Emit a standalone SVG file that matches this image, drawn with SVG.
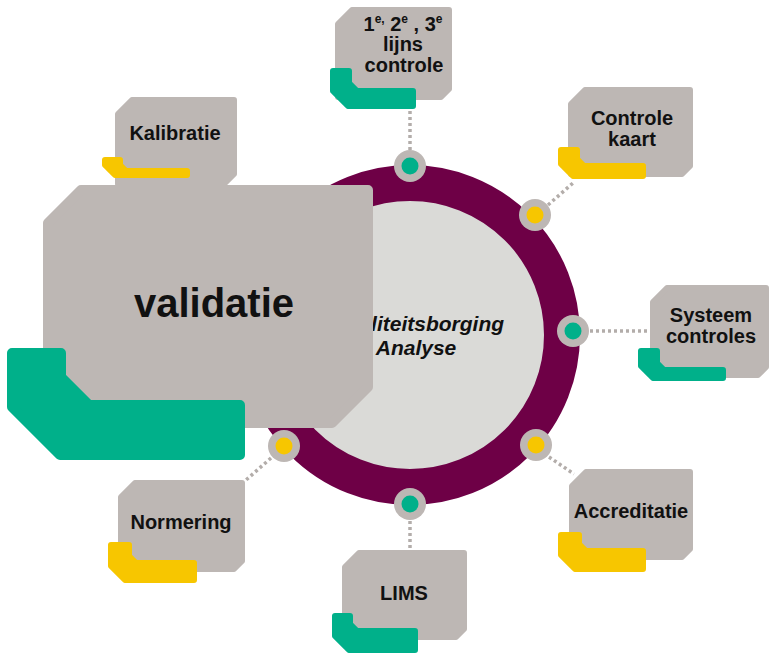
<svg xmlns="http://www.w3.org/2000/svg" width="771" height="654" viewBox="0 0 771 654">
<style>
.box{fill:#bdb7b4;stroke:#bdb7b4;stroke-width:6;stroke-linejoin:round}
.bigbox{fill:#bdb7b4;stroke:#bdb7b4;stroke-width:10;stroke-linejoin:round}
.g{fill:#00b08a;stroke:#00b08a;stroke-width:6;stroke-linejoin:round}
.gbig{fill:#00b08a;stroke:#00b08a;stroke-width:10;stroke-linejoin:round}
.y{fill:#f7c600;stroke:#f7c600;stroke-width:6;stroke-linejoin:round}
.lbl{font-family:"Liberation Sans",Arial,sans-serif;font-weight:bold;font-size:20px;fill:#111;text-anchor:middle}
.dot{fill:#bdb7b4}
.conn{stroke:#b3adaa;stroke-width:3.5;stroke-dasharray:3 3;fill:none}
</style>
<rect width="771" height="654" fill="#ffffff"/>

<g id="kalibratie">
<path class="box" d="M118,114 L132,100 L234,100 L234,174 L224,184 L118,184 Z"/>
<path class="y" d="M105,160 L120,160 L120,165 L126,171 L187,171 L187,175 L115,175 L105,165 Z"/>
<text class="lbl" x="175" y="140">Kalibratie</text>
</g>

<g id="center">
<circle cx="410" cy="335" r="152" fill="#dadad7" stroke="#6e0046" stroke-width="36"/>
<text x="416" y="331" font-family="'Liberation Sans',Arial,sans-serif" font-weight="bold" font-style="italic" font-size="21" fill="#111" text-anchor="middle">Kwaliteitsborging</text>
<text x="416" y="355" font-family="'Liberation Sans',Arial,sans-serif" font-weight="bold" font-style="italic" font-size="21" fill="#111" text-anchor="middle">Analyse</text>
</g>

<g id="connectors">
<line class="conn" x1="410" y1="150" x2="410" y2="100"/>
<line class="conn" x1="548" y1="205" x2="573" y2="183"/>
<line class="conn" x1="590" y1="331" x2="650" y2="331"/>
<line class="conn" x1="549" y1="457" x2="574" y2="474"/>
<line class="conn" x1="410" y1="521" x2="410" y2="552"/>
<line class="conn" x1="271" y1="458" x2="246" y2="480"/>
</g>

<g id="ring-dots">
<circle class="dot" cx="410" cy="166" r="16"/><circle cx="410" cy="166" r="8.5" fill="#00b08a"/>
<circle class="dot" cx="535" cy="215" r="16"/><circle cx="535" cy="215" r="8.5" fill="#f7c600"/>
<circle class="dot" cx="573" cy="331" r="16"/><circle cx="573" cy="331" r="8.5" fill="#00b08a"/>
<circle class="dot" cx="536" cy="445" r="16"/><circle cx="536" cy="445" r="8.5" fill="#f7c600"/>
<circle class="dot" cx="410" cy="504" r="16"/><circle cx="410" cy="504" r="8.5" fill="#00b08a"/>
<circle class="dot" cx="284" cy="446" r="16"/><circle cx="284" cy="446" r="8.5" fill="#f7c600"/>
</g>

<g id="lijns-controle">
<path class="box" d="M338,24 L352,10 L449,10 L449,89 L441,97 L338,97 Z"/>
<path class="g" d="M333,71 L349,71 L349,83 L357,91 L413,91 L413,106 L348,106 L333,91 Z"/>
<text class="lbl" x="403" y="31"><tspan>1</tspan><tspan dy="-8" font-size="12">e,</tspan><tspan dy="8"> 2</tspan><tspan dy="-8" font-size="12">e</tspan><tspan dy="8"> , 3</tspan><tspan dy="-8" font-size="12">e</tspan></text>
<text class="lbl" x="403" y="51">lijns</text>
<text class="lbl" x="404" y="72">controle</text>
</g>

<g id="controle-kaart">
<path class="box" d="M571,104 L585,90 L690,90 L690,166 L682,174 L571,174 Z"/>
<path class="y" d="M561,150 L577,150 L577,159 L584,166 L643,166 L643,176 L573,176 L561,164 Z"/>
<text class="lbl" x="632" y="125">Controle</text>
<text class="lbl" x="632" y="146">kaart</text>
</g>

<g id="systeem-controles">
<path class="box" d="M653,302 L667,288 L766,288 L766,367 L758,375 L653,375 Z"/>
<path class="g" d="M641,351 L657,351 L657,363 L664,370 L723,370 L723,378 L653,378 L641,366 Z"/>
<text class="lbl" x="711" y="322">Systeem</text>
<text class="lbl" x="711" y="343">controles</text>
</g>

<g id="accreditatie">
<path class="box" d="M572,486 L586,472 L690,472 L690,549 L682,557 L572,557 Z"/>
<path class="y" d="M561,535 L579,535 L579,544 L586,551 L643,551 L643,569 L575,569 L561,555 Z"/>
<text class="lbl" x="631" y="518">Accreditatie</text>
</g>

<g id="normering">
<path class="box" d="M121,497 L135,483 L242,483 L242,561 L234,569 L121,569 Z"/>
<path class="y" d="M111,545 L129,545 L129,556 L136,563 L194,563 L194,580 L125,580 L111,566 Z"/>
<text class="lbl" x="181" y="529">Normering</text>
</g>

<g id="lims">
<path class="box" d="M345,567 L359,553 L464,553 L464,629 L456,637 L345,637 Z"/>
<path class="g" d="M335,616 L350,616 L350,624 L357,631 L415,631 L415,650 L349,650 L335,636 Z"/>
<text class="lbl" x="404" y="600">LIMS</text>
</g>

<g id="validatie">
<path class="bigbox" d="M48,223 L81,190 L368,190 L368,387 L332,423 L48,423 Z"/>
<path class="gbig" d="M12,353 L61,353 L61,377 L89,405 L240,405 L240,455 L60,455 L12,407 Z"/>
<text x="214" y="317" font-family="'Liberation Sans',Arial,sans-serif" font-weight="bold" font-size="40" fill="#111" text-anchor="middle">validatie</text>
</g>
</svg>
